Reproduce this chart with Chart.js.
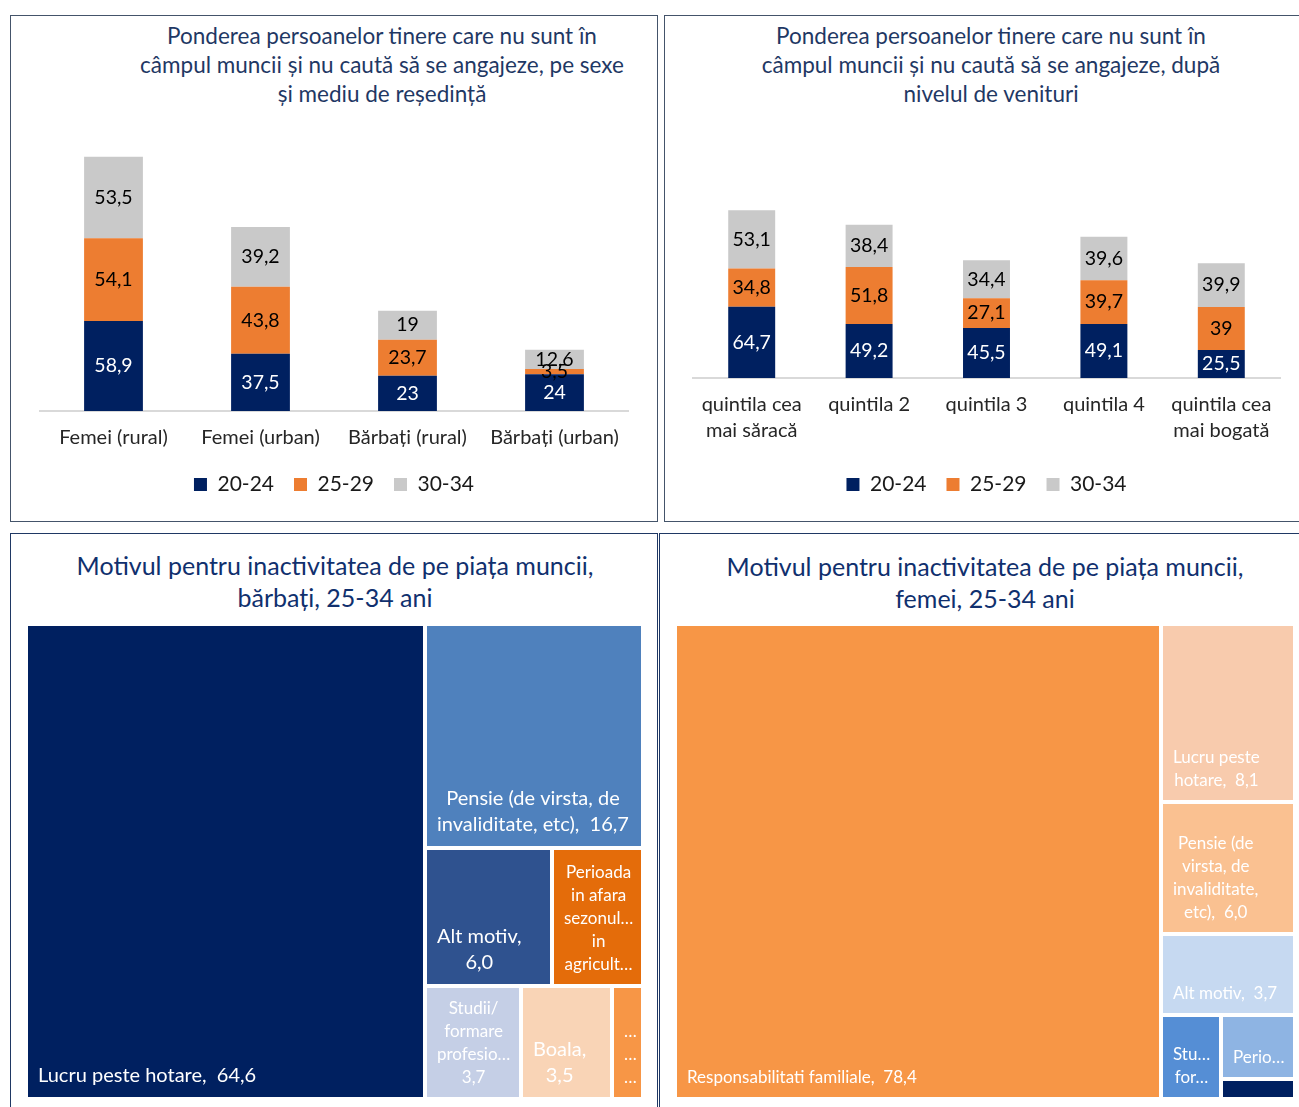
<!DOCTYPE html>
<html>
<head>
<meta charset="utf-8">
<script src="https://cdn.jsdelivr.net/npm/chart.js@4.4.1/dist/chart.umd.min.js"></script>
<style>
  body { margin: 0; background: #fff; font-family: Lato, sans-serif; }
  .panel { position: absolute; box-sizing: border-box; border: 1px solid #44546a; }
  .panel.dark { border-color: #1f3864; }
  .ttl { position: absolute; text-align: center; white-space: nowrap; }
  .ttl.top { color: #1f3864; font-size: 22.5px; line-height: 29px; width: 560px; }
  .ttl.bottom { color: #10306e; font-size: 25px; line-height: 32px; width: 620px; }
  canvas { position: absolute; }
</style>
</head>
<body>

<div class="panel" style="left:10px;top:15px;width:648px;height:507px"></div>
<div class="panel" style="left:664px;top:15px;width:660px;height:507px"></div>
<div class="panel dark" style="left:10px;top:533px;width:648px;height:600px"></div>
<div class="panel dark" style="left:659px;top:533px;width:660px;height:600px"></div>

<div class="ttl top" style="left:102px;top:21px">Ponderea persoanelor tinere care nu sunt în<br>câmpul muncii și nu caută să se angajeze, pe sexe<br>și mediu de reședință</div>
<div class="ttl top" style="left:711px;top:21px">Ponderea persoanelor tinere care nu sunt în<br>câmpul muncii și nu caută să se angajeze, după<br>nivelul de venituri</div>
<div class="ttl bottom" style="left:25px;top:549px">Motivul pentru inactivitatea de pe piața muncii,<br>bărbați, 25-34 ani</div>
<div class="ttl bottom" style="left:675px;top:550px">Motivul pentru inactivitatea de pe piața muncii,<br>femei, 25-34 ani</div>

<canvas id="sexChart" width="645" height="504" style="left:11px;top:16px"></canvas>
<canvas id="incomeChart" width="634" height="504" style="left:665px;top:16px"></canvas>
<canvas id="menTree" width="645" height="573" style="left:11px;top:534px"></canvas>
<canvas id="womenTree" width="639" height="573" style="left:660px;top:534px"></canvas>

<script>
// age groups (legend)
const ageGroups = ['20-24', '25-29', '30-34'];

// chart 1: by sex and residence
const sexCategories = ['Femei (rural)', 'Femei (urban)', 'Bărbați (rural)', 'Bărbați (urban)'];
const sex2024 = [58.9, 37.5, 23, 24];
const sex2529 = [54.1, 43.8, 23.7, 3.5];
const sex3034 = [53.5, 39.2, 19, 12.6];

// chart 2: by income quintile
const quintileCategories = [['quintila cea', 'mai săracă'], 'quintila 2', 'quintila 3', 'quintila 4', ['quintila cea', 'mai bogată']];
const q2024 = [64.7, 49.2, 45.5, 49.1, 25.5];
const q2529 = [34.8, 51.8, 27.1, 39.7, 39];
const q3034 = [53.1, 38.4, 34.4, 39.6, 39.9];

// treemaps: reasons for inactivity, 25-34
const menReasons = ['Lucru peste hotare', 'Pensie (de virsta, de invaliditate, etc)', 'Alt motiv',
  'Perioada in afara sezonului in agricultura', 'Studii/ formare profesionala', 'Boala', 'Responsabilitati familiale'];
const menShares = [64.6, 16.7, 6.0, 4.3, 3.7, 3.5, 1.2];
const menColors = ['#002060', '#4f81bd', '#2f528f', '#e46c0a', '#c5cfe6', '#f9d4b6', '#f79646'];

const womenReasons = ['Responsabilitati familiale', 'Lucru peste hotare', 'Pensie (de virsta, de invaliditate, etc)',
  'Alt motiv', 'Studii/ formare profesionala', 'Perioada in afara sezonului in agricultura', 'Boala'];
const womenShares = [78.4, 8.1, 6.0, 3.7, 1.7, 1.6, 0.5];
const womenColors = ['#f79646', '#f8cbad', '#fac191', '#c6d9f1', '#558ed5', '#8eb4e3', '#002060'];

const NAVY = '#002060', ORANGE = '#ed7d31', GREY = '#c9c9c9';

Chart.defaults.font.family = "Lato, 'Open Sans', sans-serif";
Chart.defaults.color = '#262626';

// value labels in the middle of each stacked segment
const segmentLabels = {
  id: 'segmentLabels',
  afterDatasetsDraw(chart) {
    const ctx = chart.ctx;
    ctx.save();
    ctx.font = "19.5px Lato, 'Open Sans', sans-serif";
    ctx.textAlign = 'center';
    ctx.textBaseline = 'middle';
    chart.data.datasets.forEach((ds, di) => {
      chart.getDatasetMeta(di).data.forEach((bar, i) => {
        const p = bar.getProps(['x', 'y', 'base'], true);
        ctx.fillStyle = ds.labelColor;
        ctx.fillText(String(ds.data[i]).replace('.', ','), p.x, (p.y + p.base) / 2);
      });
    });
    ctx.restore();
  }
};

function stackedChart(id, labels, series, pad, yMax, extraAxis) {
  return new Chart(document.getElementById(id), {
    type: 'bar',
    data: {
      labels: labels,
      datasets: [
        { label: ageGroups[0], data: series[0], backgroundColor: NAVY, labelColor: '#ffffff' },
        { label: ageGroups[1], data: series[1], backgroundColor: ORANGE, labelColor: '#000000' },
        { label: ageGroups[2], data: series[2], backgroundColor: GREY, labelColor: '#000000' }
      ]
    },
    options: {
      responsive: false,
      animation: false,
      layout: { padding: pad },
      datasets: { bar: { categoryPercentage: 0.5, barPercentage: 0.8 } },
      scales: {
        x: {
          stacked: true,
          grid: { display: false, drawTicks: false },
          border: { display: true, color: '#d9d9d9', width: 2 },
          ticks: { padding: 14, color: '#262626', font: { size: 20, lineHeight: 1.3 } },
          afterFit: scale => { scale.height += extraAxis; }
        },
        y: { stacked: true, display: false, min: 0, max: yMax }
      },
      plugins: {
        legend: {
          position: 'bottom',
          labels: { boxWidth: 13, boxHeight: 13, padding: 20, color: '#1a1a1a', font: { size: 21 } }
        },
        tooltip: { enabled: false }
      }
    },
    plugins: [segmentLabels]
  });
}

stackedChart('sexChart', sexCategories, [sex2024, sex2529, sex3034],
  { left: 29, right: 28, top: 120, bottom: 15 }, 180, -11);
stackedChart('incomeChart', quintileCategories, [q2024, q2529, q3034],
  { left: 28, right: 19, top: 153, bottom: 15 }, 190, -4);

// ---- treemap ----
function worst(row, side) {
  const s = row.reduce((a, b) => a + b, 0);
  const mx = Math.max(...row), mn = Math.min(...row);
  return Math.max(side * side * mx / (s * s), (s * s) / (side * side * mn));
}

// squarified layout, values sorted high to low
function squarify(values, w, h) {
  const total = values.reduce((a, b) => a + b, 0);
  const areas = values.map(v => v * w * h / total);
  const rects = [];
  let x = 0, y = 0, i = 0;
  while (i < areas.length) {
    const side = Math.min(w, h);
    let row = [areas[i]];
    let j = i + 1;
    while (j < areas.length) {
      const next = row.concat(areas[j]);
      if (worst(next, side) > worst(row, side)) break;
      row = next;
      j++;
    }
    const thick = row.reduce((a, b) => a + b, 0) / side;
    let off = 0;
    const vertical = w >= h;
    row.forEach(a => {
      const len = a / thick;
      if (vertical) rects.push({ x: x, y: y + off, w: thick, h: len });
      else rects.push({ x: x + off, y: y, w: len, h: thick });
      off += len;
    });
    if (vertical) { x += thick; w -= thick; } else { y += thick; h -= thick; }
    i = j;
  }
  return rects;
}

function cutWord(ctx, word, maxW) {
  let s = word;
  while (s.length && ctx.measureText(s + '…').width > maxW) s = s.slice(0, -1);
  return s + '…';
}

function wrapWords(ctx, words, maxW) {
  const lines = [];
  let cur = '', cut = false;
  words.forEach(w => {
    const test = cur ? cur + ' ' + w : w.trim();
    if (ctx.measureText(test).width <= maxW) { cur = test; return; }
    if (cur) lines.push(cur);
    const t = w.trim();
    // truncated words may run a little closer to the edge
    if (ctx.measureText(t).width > maxW) { lines.push(cutWord(ctx, t, maxW + 6)); cur = ''; cut = true; }
    else cur = t;
  });
  if (cur) lines.push(cur);
  return { lines, cut };
}

function drawCellLabel(ctx, name, value, x, y, w, h, baseSize) {
  const words = (name + ',').split(' ');
  words.push('\u00a0' + value.toFixed(1).replace('.', ','));
  const maxW = w - 20;
  let pick = null;
  for (const s of [baseSize, 17]) {
    ctx.font = s + "px Lato, 'Open Sans', sans-serif";
    const lh = s + 6;
    const res = wrapWords(ctx, words, maxW);
    const maxLines = Math.floor((h - 16) / lh);
    pick = { s, lh, lines: res.lines.slice(0, Math.max(0, maxLines)) };
    if (!res.cut && res.lines.length <= maxLines) break;
  }
  if (!pick.lines.length) return;
  ctx.font = pick.s + "px Lato, 'Open Sans', sans-serif";
  const blockW = Math.max(...pick.lines.map(l => ctx.measureText(l).width));
  const cx = x + 10 + blockW / 2;
  const lastY = y + h - 8 - pick.lh / 2;
  ctx.fillStyle = '#ffffff';
  ctx.textAlign = 'center';
  ctx.textBaseline = 'middle';
  pick.lines.forEach((l, k) => {
    ctx.fillText(l, cx, lastY - (pick.lines.length - 1 - k) * pick.lh);
  });
}

function treemapPlugin(names, shares, colors, baseSize) {
  return {
    id: 'treemapCells',
    afterDraw(chart) {
      const { ctx, chartArea, scales } = chart;
      const W = chartArea.width, H = chartArea.height;
      const rects = squarify(shares, W, H);
      ctx.save();
      rects.forEach((r, i) => {
        const x0 = Math.round(scales.x.getPixelForValue(r.x / W * 100)) + 2;
        const x1 = Math.round(scales.x.getPixelForValue((r.x + r.w) / W * 100)) - 2;
        const y0 = Math.round(scales.y.getPixelForValue(r.y / H * 100)) + 2;
        const y1 = Math.round(scales.y.getPixelForValue((r.y + r.h) / H * 100)) - 2;
        ctx.fillStyle = colors[i];
        ctx.fillRect(x0, y0, x1 - x0, y1 - y0);
        drawCellLabel(ctx, names[i], shares[i], x0, y0, x1 - x0, y1 - y0, baseSize);
      });
      ctx.restore();
    }
  };
}

function treemapChart(id, names, shares, colors, baseSize, pad) {
  return new Chart(document.getElementById(id), {
    type: 'scatter',
    data: { datasets: [{ data: [], pointRadius: 0 }] },
    options: {
      responsive: false,
      animation: false,
      layout: { padding: pad },
      scales: {
        x: { type: 'linear', min: 0, max: 100, display: false },
        y: { type: 'linear', min: 0, max: 100, reverse: true, display: false }
      },
      plugins: { legend: { display: false }, tooltip: { enabled: false } }
    },
    plugins: [treemapPlugin(names, shares, colors, baseSize)]
  });
}

treemapChart('menTree', menReasons, menShares, menColors, 20, { left: 15, right: 13, top: 90, bottom: 8 });
treemapChart('womenTree', womenReasons, womenShares, womenColors, 17, { left: 15, right: 4, top: 90, bottom: 8 });
</script>
</body>
</html>
